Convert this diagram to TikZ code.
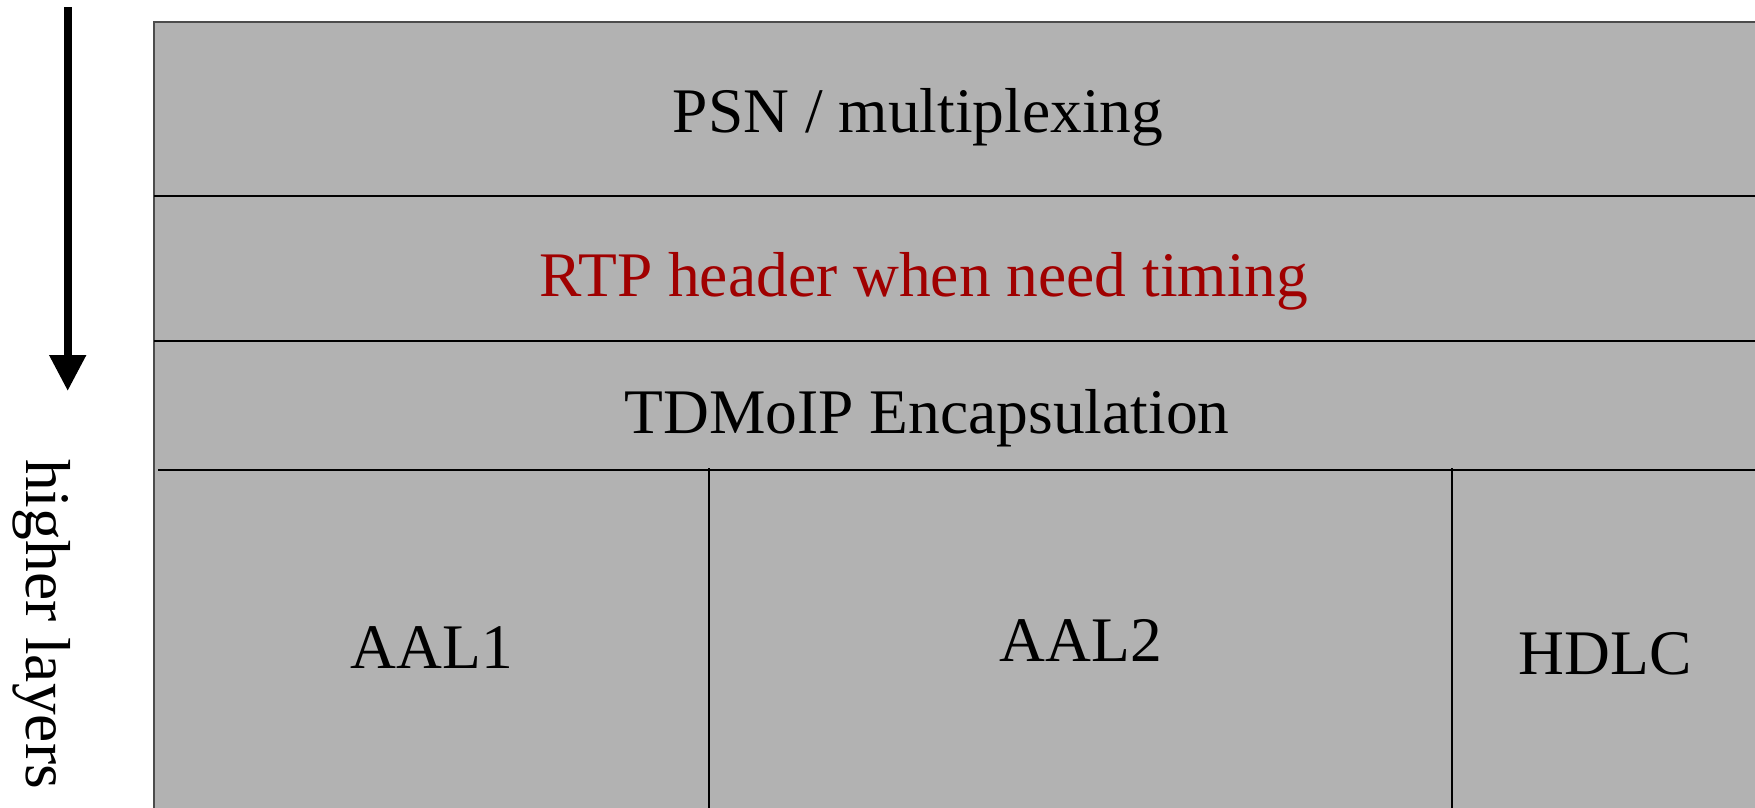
\documentclass[tikz,border=0pt]{standalone}
\usepackage{fontspec}
\setmainfont{Liberation Serif}
\usetikzlibrary{arrows.meta}
\definecolor{layergray}{RGB}{178,178,178}
\definecolor{rtpred}{RGB}{160,0,0}
\tikzset{
  bigfont/.style={font=\fontsize{63.5}{76}\selectfont},
  layertext/.style={bigfont, anchor=base, inner sep=0pt},
  divider/.style={draw=black, line width=1.7pt},
}
\begin{document}
\begin{tikzpicture}[x=1pt, y=-1pt]
  \useasboundingbox (0,0) rectangle (1755,807);
  \clip (0,0) rectangle (1755,807);

  % protocol stack body
  \fill[layergray] (154,22) rectangle (1770,830);
  \draw[black!70, line width=2pt] (1770,22) -- (154,22) -- (154,830);

  % horizontal layer boundaries
  \draw[divider] (154,196) -- (1770,196);
  \draw[divider] (154,341) -- (1770,341);
  \draw[divider] (158,470) -- (1770,470);

  % vertical separators of the adaptation layers
  \draw[divider] (709,468) -- (709,830);
  \draw[divider] (1452,468) -- (1452,830);

  % layer labels
  \node[layertext] (psn) at (918,132) {PSN / multiplexing};
  \node[layertext, text=rtpred] (rtp) at (924,296) {RTP header when need timing};
  \node[layertext] (tdm) at (927,433) {TDMoIP Encapsulation};
  \node[layertext] (aal1) at (432,668) {AAL1};
  \node[layertext] (aal2) at (1081,661) {AAL2};
  \node[layertext] (hdlc) at (1605,674) {HDLC};

  % direction arrow and its caption
  \coordinate (arrtop) at (67.7,7);
  \coordinate (arrtip) at (67.7,391);
  \draw[line width=8pt, -{Triangle[width=35pt,length=36pt]}] (arrtop) -- (arrtip);
  \node[bigfont, rotate=-90, anchor=base west, inner sep=0pt]
    (higher) at (26,459) {higher layers};
\end{tikzpicture}
\end{document}
